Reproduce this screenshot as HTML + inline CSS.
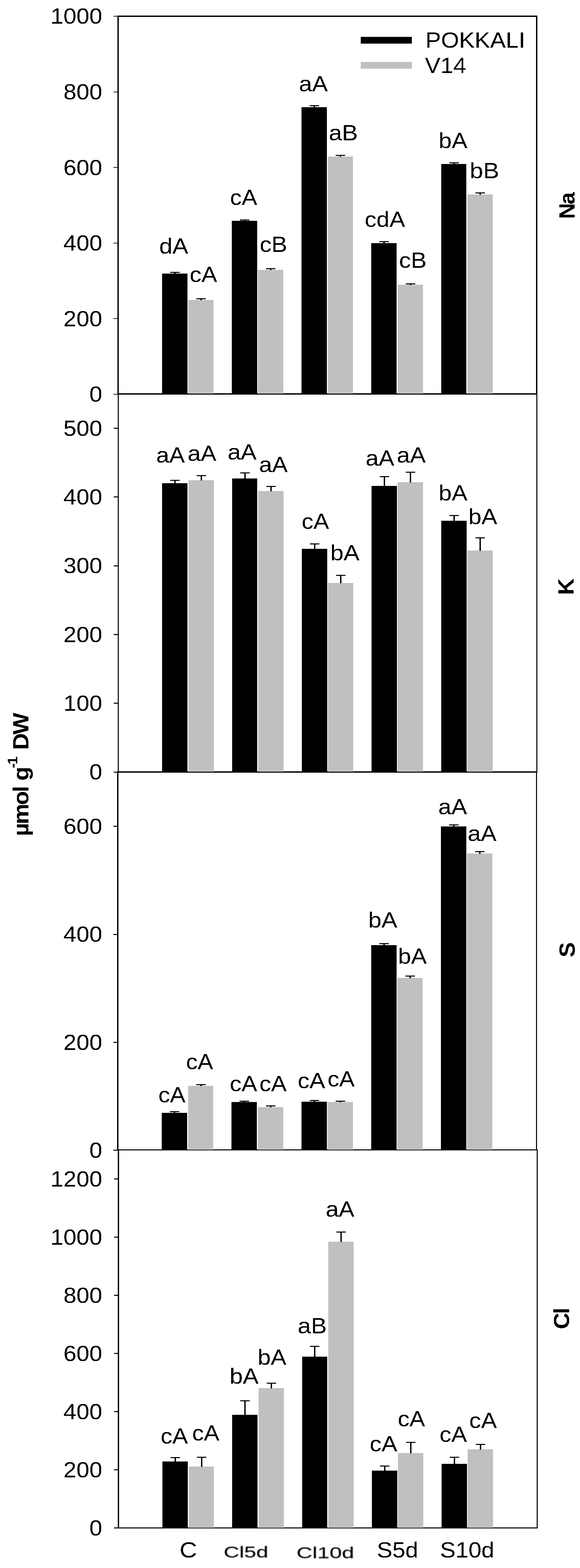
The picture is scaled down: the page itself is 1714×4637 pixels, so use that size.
<!DOCTYPE html>
<html lang="en">
<head>
<meta charset="utf-8">
<title>Ion content chart</title>
<style>
html,body{margin:0;padding:0;background:#fff;}
body{width:1714px;height:4637px;}
svg{display:block;}
text{font-family:"Liberation Sans",Arial,Helvetica,sans-serif;fill:#000;stroke:none;}
.b{font-weight:bold;}
.s{fill:#000;stroke:#000;stroke-width:0.25px;filter:blur(0.8px);}
rect{shape-rendering:crispEdges;}
</style>
</head>
<body>
<svg width="1714" height="4637" viewBox="0 0 1714 4637">
<defs><filter id="crisp" filterUnits="userSpaceOnUse" x="0" y="0" width="1714" height="4637" color-interpolation-filters="sRGB"><feComponentTransfer><feFuncA type="discrete" tableValues="0 1"/></feComponentTransfer></filter></defs>
<rect x="0" y="0" width="1714" height="4637" fill="#fff"/>
<rect x="347" y="46" width="1241" height="4" fill="#000"/>
<rect x="347" y="46" width="4" height="1121" fill="#000"/>
<rect x="1584" y="46" width="4" height="1121" fill="#000"/>
<rect x="347" y="1163" width="1241" height="4" fill="#000"/>
<rect x="335" y="1165" width="13" height="2" fill="#000"/>
<rect x="335" y="941" width="13" height="2" fill="#000"/>
<rect x="335" y="718" width="13" height="2" fill="#000"/>
<rect x="335" y="494" width="13" height="2" fill="#000"/>
<rect x="335" y="271" width="13" height="2" fill="#000"/>
<rect x="335" y="47" width="13" height="2" fill="#000"/>
<rect x="348" y="1163" width="3" height="1122" fill="#000"/>
<rect x="1585" y="1163" width="3" height="1122" fill="#000"/>
<rect x="347" y="2281" width="1241" height="4" fill="#000"/>
<rect x="336" y="2282" width="13" height="3" fill="#000"/>
<rect x="336" y="2078" width="13" height="3" fill="#000"/>
<rect x="336" y="1875" width="13" height="3" fill="#000"/>
<rect x="336" y="1672" width="13" height="3" fill="#000"/>
<rect x="336" y="1468" width="13" height="3" fill="#000"/>
<rect x="336" y="1265" width="13" height="3" fill="#000"/>
<rect x="346" y="2281" width="4" height="1121" fill="#000"/>
<rect x="1584" y="2281" width="3" height="1121" fill="#000"/>
<rect x="346" y="3399" width="1242" height="3" fill="#000"/>
<rect x="335" y="3400" width="12" height="3" fill="#000"/>
<rect x="335" y="3081" width="12" height="3" fill="#000"/>
<rect x="335" y="2762" width="12" height="3" fill="#000"/>
<rect x="335" y="2442" width="12" height="3" fill="#000"/>
<rect x="348" y="3399" width="4" height="1121" fill="#000"/>
<rect x="1586" y="3399" width="3" height="1121" fill="#000"/>
<rect x="347" y="4517" width="1242" height="3" fill="#000"/>
<rect x="337" y="4517" width="12" height="3" fill="#000"/>
<rect x="337" y="4345" width="12" height="3" fill="#000"/>
<rect x="337" y="4173" width="12" height="3" fill="#000"/>
<rect x="337" y="4001" width="12" height="3" fill="#000"/>
<rect x="337" y="3829" width="12" height="3" fill="#000"/>
<rect x="337" y="3657" width="12" height="3" fill="#000"/>
<rect x="337" y="3485" width="12" height="3" fill="#000"/>
<rect x="479" y="809" width="75" height="355" fill="#000"/>
<rect x="503" y="804" width="28" height="3" fill="#000"/>
<rect x="515" y="807" width="4" height="3" fill="#000"/>
<rect x="556" y="887" width="75" height="277" fill="#c0c0c0"/>
<rect x="580" y="882" width="28" height="3" fill="#000"/>
<rect x="592" y="885" width="4" height="3" fill="#000"/>
<rect x="685" y="653" width="75" height="511" fill="#000"/>
<rect x="709" y="649" width="28" height="3" fill="#000"/>
<rect x="721" y="652" width="4" height="2" fill="#000"/>
<rect x="762" y="797.5" width="75" height="366.5" fill="#c0c0c0"/>
<rect x="786" y="793" width="28" height="3" fill="#000"/>
<rect x="798" y="796" width="4" height="2.5" fill="#000"/>
<rect x="891" y="317" width="75" height="847" fill="#000"/>
<rect x="915" y="311" width="28" height="3" fill="#000"/>
<rect x="927" y="314" width="4" height="4" fill="#000"/>
<rect x="969" y="463" width="74" height="701" fill="#c0c0c0"/>
<rect x="992" y="458" width="28" height="3" fill="#000"/>
<rect x="1004" y="461" width="4" height="3" fill="#000"/>
<rect x="1097" y="719" width="75" height="445" fill="#000"/>
<rect x="1121" y="713" width="28" height="3" fill="#000"/>
<rect x="1133" y="716" width="4" height="4" fill="#000"/>
<rect x="1175" y="842" width="75" height="322" fill="#c0c0c0"/>
<rect x="1199" y="838" width="28" height="3" fill="#000"/>
<rect x="1211" y="841" width="4" height="2" fill="#000"/>
<rect x="1304" y="484.8" width="74" height="679.2" fill="#000"/>
<rect x="1328" y="480" width="28" height="3" fill="#000"/>
<rect x="1340" y="483" width="4" height="2.8" fill="#000"/>
<rect x="1381" y="575" width="75" height="589" fill="#c0c0c0"/>
<rect x="1405" y="569" width="28" height="3" fill="#000"/>
<rect x="1417" y="572" width="4" height="4" fill="#000"/>
<rect x="479" y="1428.8" width="75" height="853.2" fill="#000"/>
<rect x="503" y="1419" width="28" height="3" fill="#000"/>
<rect x="515" y="1422" width="4" height="7.8" fill="#000"/>
<rect x="557" y="1420" width="75" height="862" fill="#c0c0c0"/>
<rect x="581" y="1405" width="28" height="3" fill="#000"/>
<rect x="593" y="1408" width="4" height="13" fill="#000"/>
<rect x="686" y="1415" width="74" height="867" fill="#000"/>
<rect x="710" y="1397" width="28" height="3" fill="#000"/>
<rect x="722" y="1400" width="4" height="16" fill="#000"/>
<rect x="763" y="1451.8" width="75" height="830.2" fill="#c0c0c0"/>
<rect x="787" y="1437" width="28" height="3" fill="#000"/>
<rect x="799" y="1440" width="4" height="12.8" fill="#000"/>
<rect x="892" y="1623" width="75" height="659" fill="#000"/>
<rect x="916" y="1607" width="28" height="3" fill="#000"/>
<rect x="928" y="1610" width="4" height="14" fill="#000"/>
<rect x="969" y="1723.8" width="75" height="558.2" fill="#c0c0c0"/>
<rect x="993" y="1700" width="28" height="3" fill="#000"/>
<rect x="1005" y="1703" width="4" height="21.8" fill="#000"/>
<rect x="1098" y="1437" width="75" height="845" fill="#000"/>
<rect x="1122" y="1408" width="28" height="3" fill="#000"/>
<rect x="1134" y="1411" width="4" height="27" fill="#000"/>
<rect x="1175" y="1425.8" width="75" height="856.2" fill="#c0c0c0"/>
<rect x="1199" y="1395" width="28" height="3" fill="#000"/>
<rect x="1211" y="1398" width="4" height="28.8" fill="#000"/>
<rect x="1304" y="1540" width="75" height="742" fill="#000"/>
<rect x="1328" y="1523" width="28" height="3" fill="#000"/>
<rect x="1340" y="1526" width="4" height="15" fill="#000"/>
<rect x="1381" y="1628" width="75" height="654" fill="#c0c0c0"/>
<rect x="1405" y="1589" width="28" height="3" fill="#000"/>
<rect x="1417" y="1592" width="4" height="37" fill="#000"/>
<rect x="478" y="3290.8" width="75" height="109.2" fill="#000"/>
<rect x="502" y="3286" width="28" height="3" fill="#000"/>
<rect x="514" y="3289" width="4" height="2.8" fill="#000"/>
<rect x="556" y="3210.8" width="74" height="189.2" fill="#c0c0c0"/>
<rect x="580" y="3206" width="28" height="3" fill="#000"/>
<rect x="592" y="3209" width="4" height="2.8" fill="#000"/>
<rect x="684" y="3258.7" width="75" height="141.3" fill="#000"/>
<rect x="708" y="3255" width="28" height="3" fill="#000"/>
<rect x="720" y="3258" width="4" height="1.7" fill="#000"/>
<rect x="762" y="3273.8" width="75" height="126.2" fill="#c0c0c0"/>
<rect x="786" y="3269" width="28" height="3" fill="#000"/>
<rect x="798" y="3272" width="4" height="2.8" fill="#000"/>
<rect x="891" y="3257.6" width="75" height="142.4" fill="#000"/>
<rect x="915" y="3253" width="28" height="3" fill="#000"/>
<rect x="927" y="3256" width="4" height="2.6" fill="#000"/>
<rect x="968" y="3258.7" width="75" height="141.3" fill="#c0c0c0"/>
<rect x="992" y="3255" width="28" height="3" fill="#000"/>
<rect x="1004" y="3258" width="4" height="1.7" fill="#000"/>
<rect x="1097" y="2794.9" width="75" height="605.1" fill="#000"/>
<rect x="1121" y="2789" width="28" height="3" fill="#000"/>
<rect x="1133" y="2792" width="4" height="3.9" fill="#000"/>
<rect x="1174" y="2892" width="75" height="508" fill="#c0c0c0"/>
<rect x="1198" y="2885" width="28" height="3" fill="#000"/>
<rect x="1210" y="2888" width="4" height="5" fill="#000"/>
<rect x="1303" y="2443.8" width="75" height="956.2" fill="#000"/>
<rect x="1327" y="2438" width="28" height="3" fill="#000"/>
<rect x="1339" y="2441" width="4" height="3.8" fill="#000"/>
<rect x="1380" y="2524" width="75" height="876" fill="#c0c0c0"/>
<rect x="1404" y="2517" width="28" height="3" fill="#000"/>
<rect x="1416" y="2520" width="4" height="5" fill="#000"/>
<rect x="480" y="4322" width="75" height="196" fill="#000"/>
<rect x="504" y="4309" width="28" height="3" fill="#000"/>
<rect x="516" y="4312" width="4" height="11" fill="#000"/>
<rect x="558" y="4336.8" width="74" height="181.2" fill="#c0c0c0"/>
<rect x="582" y="4308" width="28" height="3" fill="#000"/>
<rect x="594" y="4311" width="4" height="26.8" fill="#000"/>
<rect x="686" y="4184" width="75" height="334" fill="#000"/>
<rect x="710" y="4141" width="28" height="3" fill="#000"/>
<rect x="722" y="4144" width="4" height="41" fill="#000"/>
<rect x="764" y="4104.8" width="75" height="413.2" fill="#c0c0c0"/>
<rect x="788" y="4089" width="28" height="3" fill="#000"/>
<rect x="800" y="4092" width="4" height="13.8" fill="#000"/>
<rect x="893" y="4012" width="74" height="506" fill="#000"/>
<rect x="916" y="3980" width="28" height="3" fill="#000"/>
<rect x="928" y="3983" width="4" height="30" fill="#000"/>
<rect x="970" y="3671.8" width="75" height="846.2" fill="#c0c0c0"/>
<rect x="994" y="3642" width="28" height="3" fill="#000"/>
<rect x="1006" y="3645" width="4" height="27.8" fill="#000"/>
<rect x="1099" y="4349" width="75" height="169" fill="#000"/>
<rect x="1123" y="4334" width="28" height="3" fill="#000"/>
<rect x="1135" y="4337" width="4" height="13" fill="#000"/>
<rect x="1176" y="4297" width="75" height="221" fill="#c0c0c0"/>
<rect x="1200" y="4264" width="28" height="3" fill="#000"/>
<rect x="1212" y="4267" width="4" height="31" fill="#000"/>
<rect x="1305" y="4329" width="75" height="189" fill="#000"/>
<rect x="1329" y="4308" width="28" height="3" fill="#000"/>
<rect x="1341" y="4311" width="4" height="19" fill="#000"/>
<rect x="1382" y="4286" width="75" height="232" fill="#c0c0c0"/>
<rect x="1406" y="4270" width="28" height="3" fill="#000"/>
<rect x="1418" y="4273" width="4" height="14" fill="#000"/>
<rect x="1066" y="109" width="151" height="20" fill="#000"/>
<rect x="1066" y="183" width="151" height="20" fill="#c0c0c0"/>
<g filter="url(#crisp)">
<text class="t" transform="translate(263.91,1188.30) scale(1.0580,1)" font-size="65">0</text>
<text class="t" transform="translate(187.40,964.70) scale(1.0580,1)" font-size="65">200</text>
<text class="t" transform="translate(187.40,741.10) scale(1.0580,1)" font-size="65">400</text>
<text class="t" transform="translate(187.40,517.50) scale(1.0580,1)" font-size="65">600</text>
<text class="t" transform="translate(187.40,293.90) scale(1.0580,1)" font-size="65">800</text>
<text class="t" transform="translate(149.24,70.30) scale(1.0580,1)" font-size="65">1000</text>
<text class="t" transform="translate(263.91,2305.30) scale(1.0580,1)" font-size="65">0</text>
<text class="t" transform="translate(187.40,2102.00) scale(1.0580,1)" font-size="65">100</text>
<text class="t" transform="translate(187.40,1898.70) scale(1.0580,1)" font-size="65">200</text>
<text class="t" transform="translate(187.40,1695.40) scale(1.0580,1)" font-size="65">300</text>
<text class="t" transform="translate(187.40,1492.10) scale(1.0580,1)" font-size="65">400</text>
<text class="t" transform="translate(187.40,1288.80) scale(1.0580,1)" font-size="65">500</text>
<text class="t" transform="translate(263.91,3424.30) scale(1.0580,1)" font-size="65">0</text>
<text class="t" transform="translate(187.40,3104.80) scale(1.0580,1)" font-size="65">200</text>
<text class="t" transform="translate(187.40,2785.30) scale(1.0580,1)" font-size="65">400</text>
<text class="t" transform="translate(187.40,2465.80) scale(1.0580,1)" font-size="65">600</text>
<text class="t" transform="translate(263.91,4540.80) scale(1.0580,1)" font-size="65">0</text>
<text class="t" transform="translate(187.40,4368.80) scale(1.0580,1)" font-size="65">200</text>
<text class="t" transform="translate(187.40,4196.80) scale(1.0580,1)" font-size="65">400</text>
<text class="t" transform="translate(187.40,4024.80) scale(1.0580,1)" font-size="65">600</text>
<text class="t" transform="translate(187.40,3852.80) scale(1.0580,1)" font-size="65">800</text>
<text class="t" transform="translate(149.24,3680.80) scale(1.0580,1)" font-size="65">1000</text>
<text class="t" transform="translate(149.24,3508.80) scale(1.0580,1)" font-size="65">1200</text>
<text class="t" transform="translate(470.52,749.80) scale(1.0779,1)" font-size="65">dA</text>
<text class="t" transform="translate(560.54,833.80) scale(1.0718,1)" font-size="65">cA</text>
<text class="t" transform="translate(679.77,606.00) scale(1.0594,1)" font-size="65">cA</text>
<text class="t" transform="translate(767.43,745.30) scale(1.0744,1)" font-size="65">cB</text>
<text class="t" transform="translate(883.54,270.00) scale(1.0701,1)" font-size="65">aA</text>
<text class="t" transform="translate(971.73,415.00) scale(1.0766,1)" font-size="65">aB</text>
<text class="t" transform="translate(1077.75,671.00) scale(1.0675,1)" font-size="65">cdA</text>
<text class="t" transform="translate(1179.34,792.00) scale(1.0730,1)" font-size="65">cB</text>
<text class="t" transform="translate(1296.29,437.60) scale(1.0683,1)" font-size="65">bA</text>
<text class="t" transform="translate(1388.29,527.00) scale(1.0915,1)" font-size="65">bB</text>
<text class="t" transform="translate(461.56,1368.00) scale(1.0648,1)" font-size="65">aA</text>
<text class="t" transform="translate(554.55,1362.80) scale(1.0675,1)" font-size="65">aA</text>
<text class="t" transform="translate(672.63,1359.20) scale(1.0740,1)" font-size="65">aA</text>
<text class="t" transform="translate(765.46,1395.80) scale(1.0635,1)" font-size="65">aA</text>
<text class="t" transform="translate(891.56,1564.00) scale(1.0649,1)" font-size="65">cA</text>
<text class="t" transform="translate(975.90,1657.00) scale(1.0882,1)" font-size="65">bA</text>
<text class="t" transform="translate(1080.46,1377.00) scale(1.0648,1)" font-size="65">aA</text>
<text class="t" transform="translate(1172.53,1368.00) scale(1.0766,1)" font-size="65">aA</text>
<text class="t" transform="translate(1296.29,1480.00) scale(1.0683,1)" font-size="65">bA</text>
<text class="t" transform="translate(1384.06,1550.30) scale(1.0736,1)" font-size="65">bA</text>
<text class="t" transform="translate(467.88,3260.00) scale(1.0567,1)" font-size="65">cA</text>
<text class="t" transform="translate(549.78,3162.00) scale(1.0567,1)" font-size="65">cA</text>
<text class="t" transform="translate(678.94,3227.00) scale(1.0704,1)" font-size="65">cA</text>
<text class="t" transform="translate(766.46,3227.00) scale(1.0636,1)" font-size="65">cA</text>
<text class="t" transform="translate(879.74,3218.00) scale(1.0732,1)" font-size="65">cA</text>
<text class="t" transform="translate(967.98,3213.30) scale(1.0567,1)" font-size="65">cA</text>
<text class="t" transform="translate(1088.23,2742.70) scale(1.0816,1)" font-size="65">bA</text>
<text class="t" transform="translate(1175.98,2849.60) scale(1.0709,1)" font-size="65">bA</text>
<text class="t" transform="translate(1295.35,2407.70) scale(1.0675,1)" font-size="65">aA</text>
<text class="t" transform="translate(1382.35,2486.90) scale(1.0675,1)" font-size="65">aA</text>
<text class="t" transform="translate(474.66,4269.00) scale(1.0636,1)" font-size="65">cA</text>
<text class="t" transform="translate(567.66,4260.00) scale(1.0636,1)" font-size="65">cA</text>
<text class="t" transform="translate(678.66,4092.00) scale(1.0749,1)" font-size="65">bA</text>
<text class="t" transform="translate(761.39,4036.00) scale(1.0669,1)" font-size="65">bA</text>
<text class="t" transform="translate(879.71,3942.70) scale(1.0834,1)" font-size="65">aB</text>
<text class="t" transform="translate(962.45,3598.00) scale(1.0661,1)" font-size="65">aA</text>
<text class="t" transform="translate(1092.53,4292.00) scale(1.0759,1)" font-size="65">cA</text>
<text class="t" transform="translate(1175.56,4217.60) scale(1.0636,1)" font-size="65">cA</text>
<text class="t" transform="translate(1299.05,4264.00) scale(1.0690,1)" font-size="65">cA</text>
<text class="t" transform="translate(1386.62,4223.00) scale(1.0773,1)" font-size="65">cA</text>
<text class="t" transform="translate(1257.32,141.00) scale(1.0587,1)" font-size="65">POKKALI</text>
<text class="t" transform="translate(1255.66,216.00) scale(1.0580,1)" font-size="65">V14</text>
<text class="t" transform="translate(530.74,4606.00) scale(1.0946,1)" font-size="65">C</text>
<text class="t" transform="translate(1113.70,4605.80) scale(1.0585,1)" font-size="65">S5d</text>
<text class="t" transform="translate(1300.51,4605.80) scale(1.0560,1)" font-size="65">S10d</text>
<text class="b" transform="translate(1698.00,647.39) rotate(-90) scale(1.0000,1)" font-size="65" letter-spacing="-4.14">Na</text>
<text class="b" transform="translate(1695.00,1759.60) rotate(-90) scale(1.0495,1)" font-size="65">K</text>
<text class="b" transform="translate(1698.50,2831.01) rotate(-90) scale(1.0299,1)" font-size="65">S</text>
<text class="b" transform="translate(1682.00,3930.70) rotate(-90) scale(1.0400,1)" font-size="65" letter-spacing="-4.00">Cl</text>
<text class="b" transform="translate(84.00,2470.00) rotate(-90) scale(1.0500,1)" font-size="65"><tspan x="-2.89" letter-spacing="-3.70">µmol</tspan> <tspan x="153.78">g</tspan><tspan x="189.12" dy="-33.2" font-size="41" letter-spacing="-3.91">-1</tspan> <tspan x="240.66" dy="33.2" letter-spacing="-4.03">DW</tspan></text>
</g>
<text class="s" transform="translate(661.10,4605.50) scale(1.3772,1)" font-size="46.5">Cl5d</text>
<text class="s" transform="translate(876.24,4607.50) scale(1.4022,1)" font-size="46.5">Cl10d</text>
</svg>
</body>
</html>
